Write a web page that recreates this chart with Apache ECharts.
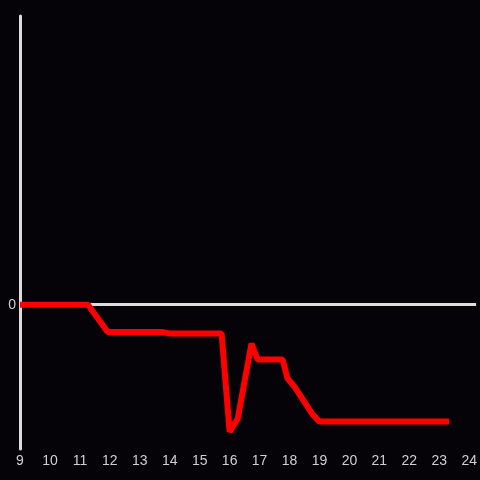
<!DOCTYPE html>
<html>
<head>
<meta charset="utf-8">
<script src="https://cdn.jsdelivr.net/npm/echarts@6/dist/echarts.min.js"></script>
<style>
  html, body { margin: 0; padding: 0; background: #050308; }
  #chart { width: 480px; height: 480px; }
</style>
</head>
<body>
<div id="chart"></div>
<script>
// hour of day vs value
const hours = [9, 11.27, 11.93, 13.77, 14, 15.73, 16, 16.27, 16.73, 16.93, 17.77, 17.93, 18.17, 18.77, 19, 23.33]
const values = [0, 0, -0.19, -0.19, -0.2, -0.2, -0.88, -0.79, -0.27, -0.38, -0.38, -0.51, -0.57, -0.76, -0.81, -0.81]

const chart = echarts.init(document.getElementById('chart'))

const option = {
  backgroundColor: '#050308',
  animation: false,
  grid: {
    left: 20,
    right: 0,
    top: 16,
    bottom: 31
  },
  xAxis: {
    type: 'value',
    min: 9,
    max: 24.23,
    interval: 1,
    axisLine: { show: false },
    axisTick: { show: false },
    splitLine: { show: false },
    axisLabel: {
      color: '#d0d0d0',
      fontSize: 14,
      fontFamily: 'Liberation Sans',
      margin: 5,
      formatter: v => (Number.isInteger(v) ? String(v) : '')
    }
  },
  yAxis: {
    type: 'value',
    min: -1,
    max: 2,
    interval: 1,
    axisLine: { show: true, onZero: false, lineStyle: { color: '#dcdcdc', width: 3 } },
    axisTick: { show: false },
    splitLine: { show: false },
    axisLabel: {
      color: '#d0d0d0',
      fontSize: 14,
      fontFamily: 'Liberation Sans',
      margin: 4,
      formatter: v => (v === 0 ? '0' : '')
    }
  },
  series: [
    {
      type: 'line',
      data: hours.map((h, i) => [h, values[i]]),
      showSymbol: false,
      lineStyle: { color: '#ff0000', width: 6 },
      z: 3,
      markLine: {
        silent: true,
        symbol: 'none',
        label: { show: false },
        lineStyle: { color: '#dcdcdc', width: 3, type: 'solid' },
        data: [{ yAxis: 0 }],
        z: 2
      }
    }
  ]
}

chart.setOption(option)
</script>
</body>
</html>
